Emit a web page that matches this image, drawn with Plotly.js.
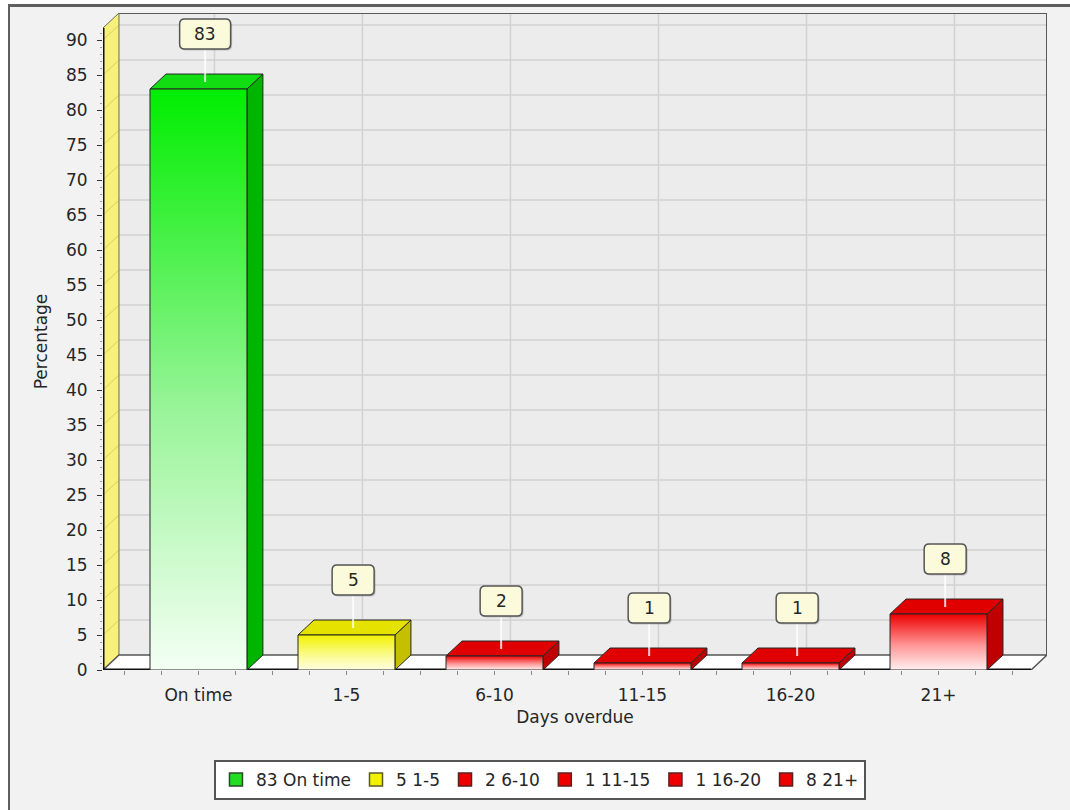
<!DOCTYPE html>
<html>
<head>
<meta charset="utf-8">
<script src="https://cdn.plot.ly/plotly-3.0.1.min.js"></script>
<style>
  html, body { margin: 0; padding: 0; background: #ffffff; }
  #frame { position: absolute; left: 8px; top: 4px; border-left: 2px solid #5e5e5e; border-top: 3px solid #5e5e5e; }
  #chart { width: 1060px; height: 803px; }
</style>
</head>
<body>
<div id="frame"><div id="chart"></div></div>
<script>
// Share of items by days overdue
const categories = ['On time', '1-5', '6-10', '11-15', '16-20', '21+'];
const percentages = [83, 5, 2, 1, 1, 8];
const bandOf = ['green', 'yellow', 'red', 'red', 'red', 'red'];

// Face colours for each band
const palette = {
  green:  { light: '#f4fff4', mid: '#98f498', face: '#00ee00', top: '#12dc12', side: '#00b400', key: '#22dd22', edge: '#2a4a2a' },
  yellow: { light: '#ffffe4', mid: '#fafa88', face: '#f2f200', top: '#e6e200', side: '#c4c000', key: '#f2f200', edge: '#5a5a20' },
  red:    { light: '#fff0f0', mid: '#ff9494', face: '#ee0000', top: '#e00000', side: '#c00000', key: '#ee0000', edge: '#5a2020' }
};

// 3-D box geometry (axis units)
const HALF = 0.3275;          // half width of a bar front face
const DX = 0.108;             // depth offset along x
const DY = 2.14;              // depth offset along y
const X_LEFT = -0.645, X_RIGHT = 5.625;
const Y_TOP = 93.86;

const FONT = 'DejaVu Sans, Verdana, sans-serif';
const INK = '#262626';

const yMajor = [];
for (let v = 0; v <= 90; v += 5) yMajor.push(v);
const yMinor = [];
for (let v = 1; v <= 91; v++) if (v % 5 !== 0) yMinor.push(v);

const traces = [];
const shapes = [];
const annotations = [];

// back wall
shapes.push({ type: 'rect', layer: 'below', xref: 'x', yref: 'y',
  x0: X_LEFT + DX, x1: X_RIGHT + DX, y0: DY, y1: Y_TOP,
  fillcolor: '#ececec', line: { width: 0 } });
yMajor.forEach(v => {
  if (v === 0) return;
  shapes.push({ type: 'line', layer: 'below', xref: 'x', yref: 'y',
    x0: X_LEFT + DX, x1: X_RIGHT + DX, y0: v + DY, y1: v + DY,
    line: { color: '#d2d2d2', width: 1.5 } });
});
categories.forEach((c, i) => {
  shapes.push({ type: 'line', layer: 'below', xref: 'x', yref: 'y',
    x0: i + DX, x1: i + DX, y0: DY, y1: Y_TOP,
    line: { color: '#d2d2d2', width: 1.5 } });
});
shapes.push({ type: 'path', layer: 'below', xref: 'x', yref: 'y',
  path: `M${X_LEFT + DX},${Y_TOP} L${X_RIGHT + DX},${Y_TOP} L${X_RIGHT + DX},${DY}`,
  line: { color: '#5a5a5a', width: 2 } });

// left wall
shapes.push({ type: 'path', layer: 'below', xref: 'x', yref: 'y',
  path: `M${X_LEFT},0 L${X_LEFT + DX},${DY} L${X_LEFT + DX},${Y_TOP} L${X_LEFT},${Y_TOP - DY} Z`,
  fillcolor: '#f7f17c', line: { color: '#6a6a50', width: 1 } });
yMajor.forEach(v => {
  shapes.push({ type: 'line', layer: 'below', xref: 'x', yref: 'y',
    x0: X_LEFT, x1: X_LEFT + DX, y0: v, y1: v + DY,
    line: { color: 'rgba(190,180,70,0.55)', width: 1 } });
});

// floor
shapes.push({ type: 'path', layer: 'below', xref: 'x', yref: 'y',
  path: `M${X_LEFT},0 L${X_RIGHT},0 L${X_RIGHT + DX},${DY} L${X_LEFT + DX},${DY} Z`,
  fillcolor: '#ffffff', line: { color: '#555555', width: 1.5 } });

// front axis lines
shapes.push({ type: 'line', layer: 'below', xref: 'x', yref: 'y',
  x0: X_LEFT, x1: X_LEFT, y0: 0, y1: Y_TOP - DY, line: { color: '#111111', width: 3 } });
shapes.push({ type: 'line', layer: 'below', xref: 'x', yref: 'y',
  x0: X_LEFT, x1: X_RIGHT, y0: 0, y1: 0, line: { color: '#111111', width: 3 } });

// bars: side, top and gradient front face
categories.forEach((c, i) => {
  const v = percentages[i];
  const p = palette[bandOf[i]];
  const l = i - HALF, r = i + HALF;
  const outline = { color: '#262626', width: 1 };
  traces.push({ type: 'scatter', mode: 'lines', fill: 'toself', showlegend: false, hoverinfo: 'skip',
    x: [r, r + DX, r + DX, r, r], y: [0, DY, v + DY, v, 0],
    fillcolor: p.side, line: outline });
  traces.push({ type: 'scatter', mode: 'lines', fill: 'toself', showlegend: false, hoverinfo: 'skip',
    x: [l, r, r + DX, l + DX, l], y: [v, v, v + DY, v + DY, v],
    fillcolor: p.top, line: outline });
  traces.push({ type: 'scatter', mode: 'lines', fill: 'toself', showlegend: false, hoverinfo: 'skip',
    x: [l, r, r, l, l], y: [0, 0, v, v, 0],
    fillgradient: { type: 'vertical', colorscale: [[0, p.light], [0.45, p.mid], [1, p.face]] },
    fillcolor: p.face, line: outline });
});

// value call-outs above each bar
categories.forEach((c, i) => {
  const v = percentages[i];
  const label = String(v);
  const hw = (label.length * 9 + 33) / 2;
  const rr = 5, b = 40, t = 70;
  const box = (ox, oy) =>
    `M${-hw + rr + ox},${b + oy} L${hw - rr + ox},${b + oy} Q${hw + ox},${b + oy} ${hw + ox},${b + rr + oy} ` +
    `L${hw + ox},${t - rr + oy} Q${hw + ox},${t + oy} ${hw - rr + ox},${t + oy} ` +
    `L${-hw + rr + ox},${t + oy} Q${-hw + ox},${t + oy} ${-hw + ox},${t - rr + oy} ` +
    `L${-hw + ox},${b + rr + oy} Q${-hw + ox},${b + oy} ${-hw + rr + ox},${b + oy} Z`;
  const anchor = { xref: 'x', yref: 'y', xsizemode: 'pixel', ysizemode: 'pixel',
    xanchor: i + 0.045, yanchor: v, layer: 'above' };
  shapes.push(Object.assign({ type: 'line', x0: 0, x1: 0, y0: 7, y1: b,
    line: { color: 'rgba(255,255,255,0.8)', width: 2 } }, anchor));
  shapes.push(Object.assign({ type: 'path', path: box(1.5, -1.5),
    fillcolor: 'rgba(0,0,0,0.18)', line: { width: 0 } }, anchor));
  shapes.push(Object.assign({ type: 'path', path: box(0, 0),
    fillcolor: '#fbfbdc', line: { color: '#555555', width: 1.5 } }, anchor));
  annotations.push({ xref: 'x', yref: 'y', x: i + 0.045, y: v, yshift: 55,
    text: label, showarrow: false, xanchor: 'center', yanchor: 'middle',
    font: { family: FONT, size: 17, color: INK } });
});

// legend keys
categories.forEach((c, i) => {
  const p = palette[bandOf[i]];
  traces.push({ type: 'scatter', mode: 'markers', x: [null], y: [null], hoverinfo: 'skip',
    name: `${percentages[i]} ${c}`,
    marker: { symbol: 'square', size: 13, color: p.key, line: { color: p.edge, width: 1.5 } } });
});

const layout = {
  width: 1060, height: 803,
  margin: { l: 93, r: 23, t: 6, b: 140 },
  paper_bgcolor: '#f2f2f2', plot_bgcolor: '#f2f2f2',
  font: { family: FONT, size: 17, color: INK },
  showlegend: true,
  hovermode: false,
  xaxis: {
    range: [X_LEFT, X_RIGHT + DX], fixedrange: true,
    tickmode: 'array', tickvals: categories.map((c, i) => i), ticktext: categories,
    ticks: 'outside', ticklen: 4, tickcolor: '#888888', ticklabelstandoff: 6,
    minor: { ticks: 'outside', tick0: 0, dtick: 0.25, ticklen: 4, tickcolor: '#888888', showgrid: false },
    showgrid: false, zeroline: false, showline: false,
    tickfont: { family: FONT, size: 17, color: INK },
    title: { text: 'Days overdue', font: { family: FONT, size: 17, color: INK }, standoff: 6 }
  },
  yaxis: {
    range: [0, Y_TOP], fixedrange: true,
    tickmode: 'array', tickvals: yMajor,
    ticks: 'outside', ticklen: 5, tickcolor: '#333333', ticklabelstandoff: 6,
    minor: { ticks: 'outside', tickmode: 'array', tickvals: yMinor, ticklen: 2, tickcolor: '#999999', showgrid: false },
    showgrid: false, zeroline: false, showline: false,
    tickfont: { family: FONT, size: 17, color: INK },
    title: { text: 'Percentage', font: { family: FONT, size: 17, color: INK }, standoff: 14 }
  },
  legend: {
    orientation: 'h', x: 0.4629, xanchor: 'center', y: -0.137, yanchor: 'top',
    bgcolor: '#ffffff', bordercolor: '#555555', borderwidth: 2,
    font: { family: FONT, size: 17, color: INK }
  },
  shapes: shapes,
  annotations: annotations
};

Plotly.newPlot('chart', traces, layout, { displayModeBar: false, staticPlot: true });
</script>
</body>
</html>
